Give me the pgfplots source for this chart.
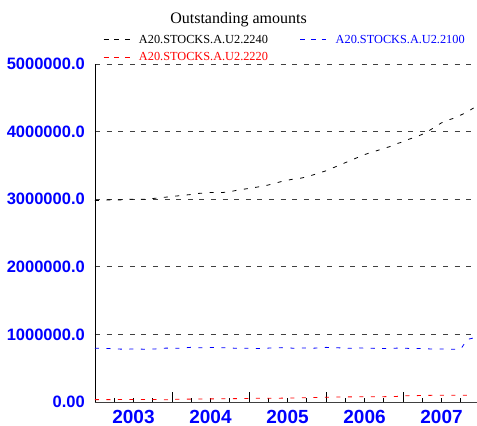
\documentclass[border=0pt]{standalone}
\usepackage{pgfplots}
\pgfplotsset{compat=1.18}
\usepackage{pgfplotstable}
\usepackage{fontspec}
\setmainfont{Liberation Serif}
\newfontfamily\labelsans{Liberation Sans}

% Monthly outstanding amounts, Jan 2003 (m = 0) to Dec 2007 (m = 59)
\pgfplotstableread{
m  s2240   s2100  s2220
0  2980000 795000 35000
1  2980000 794000 35000
2  2990000 791000 35000
3  2990000 788000 36000
4  2990000 782000 36000
5  3000000 781000 37000
6  3000000 785000 37000
7  3000000 783000 37000
8  3000000 780000 38000
9  3010000 783000 38000
10 3020000 788000 36000
11 3030000 797000 32000
12 3040000 798000 38000
13 3050000 795000 40000
14 3060000 802000 42000
15 3070000 809000 43000
16 3085000 804000 44000
17 3090000 801000 45000
18 3100000 806000 46000
19 3100000 808000 47000
20 3100000 802000 48000
21 3110000 799000 49000
22 3130000 795000 50000
23 3145000 794000 52000
24 3160000 794000 53000
25 3175000 792000 54000
26 3190000 791000 55000
27 3210000 797000 55000
28 3235000 802000 56000
29 3260000 804000 57000
30 3280000 801000 58000
31 3300000 795000 60000
32 3310000 797000 62000
33 3330000 800000 64000
34 3360000 796000 66000
35 3390000 800000 68000
36 3420000 808000 70000
37 3460000 805000 72000
38 3500000 801000 74000
39 3540000 798000 75000
40 3580000 794000 76000
41 3620000 797000 77000
42 3660000 800000 78000
43 3690000 796000 78000
44 3720000 791000 79000
45 3750000 790000 79000
46 3780000 791000 80000
47 3820000 797000 82000
48 3850000 798000 92000
49 3890000 792000 94000
50 3920000 790000 94000
51 3960000 790000 96000
52 4010000 786000 98000
53 4070000 781000 99000
54 4130000 784000 99000
55 4170000 783000 100000
56 4200000 780000 100000
57 4245000 782000 100000
58 4290000 925000 100000
59 4350000 948000 101000
}\amounts

\begin{document}
\begin{tikzpicture}
\useasboundingbox (-95pt,-24pt) rectangle (382pt,402pt);
\begin{axis}[
  at={(0pt,0pt)}, anchor=south west,
  scale only axis, width=382pt, height=338pt,
  xmin=0, xmax=59.53, ymin=0, ymax=5000000,
  axis x line*=bottom, axis y line*=left,
  x axis line style={-, draw=black!75, line width=1pt},
  y axis line style={-, draw=black, line width=0.8pt},
  scaled y ticks=false,
  ytick={0,1000000,2000000,3000000,4000000,5000000},
  yticklabels={0.00,1000000.0,2000000.0,3000000.0,4000000.0,5000000.0},
  ytick style={draw=none},
  ymajorgrids,
  major grid style={black!75, line width=0.8pt, dash pattern=on 5pt off 6.6pt},
  xtick={12,24,36,48}, xticklabels={},
  minor xtick={3,6,9,15,18,21,27,30,33,39,42,45,51,54,57},
  extra x ticks={6,18,30,42,54},
  extra x tick labels={2003,2004,2005,2006,2007},
  extra x tick style={major tick length=4pt},
  xtick style={black, line width=0.8pt},
  major tick length=10pt, minor tick length=4pt,
  tick align=inside,
  xticklabel style={font=\labelsans\bfseries\fontsize{19}{19}\selectfont, text=blue, inner sep=0pt, yshift=-8pt},
  yticklabel style={font=\labelsans\bfseries\fontsize{16.5}{16.5}\selectfont, text=blue, inner sep=0pt, xshift=-10pt},
  legend columns=2,
  legend cell align=left,
  legend style={draw=none, fill=none, inner sep=0pt,
    font=\fontsize{12.3}{14}\selectfont,
    at={(axis description cs:0,1)}, anchor=south west, xshift=8pt, yshift=0pt,
    /tikz/every odd column/.append style={column sep=7pt},
    /tikz/every even column/.append style={column sep=30pt},
    row sep=3.5pt},
  legend image code/.code={\draw[#1, dash pattern=on 5pt off 5.7pt] (0pt,0pt) -- (26pt,0pt);},
]
\addplot[black, line width=0.8pt, dash pattern=on 4pt off 7.5pt] table[x=m, y=s2240]{\amounts};
\addlegendentry{\textcolor{black}{A20.STOCKS.A.U2.2240}}
\addplot[blue, line width=0.8pt, dash pattern=on 4pt off 7.5pt] table[x=m, y=s2100]{\amounts};
\addlegendentry{\textcolor{blue}{A20.STOCKS.A.U2.2100}}
\addplot[red, line width=0.8pt, dash pattern=on 4pt off 7.5pt] table[x=m, y=s2220]{\amounts};
\addlegendentry{\textcolor{red}{A20.STOCKS.A.U2.2220}}
\end{axis}
\node[font=\fontsize{16}{18}\selectfont, anchor=base] at (143.5pt,378pt) {Outstanding amounts};
\end{tikzpicture}
\end{document}
